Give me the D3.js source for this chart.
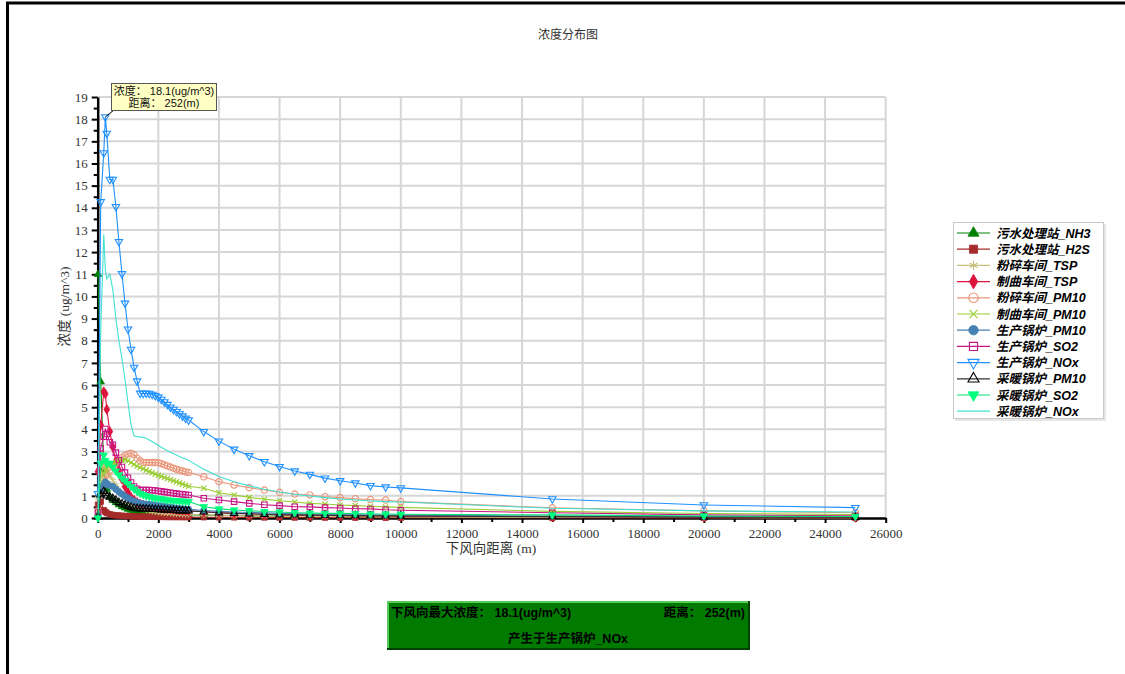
<!DOCTYPE html>
<html>
<head>
<meta charset="utf-8">
<script src="https://cdn.jsdelivr.net/npm/d3@7"></script>
<style>
  body { margin: 0; background: #fff; }
  svg { display: block; }
</style>
</head>
<body>
<svg id="chart" width="1125" height="674"></svg>
<script>
// Downwind distances (m)
const distances = [10, 100, 200, 252,
  300, 400, 500, 600, 700, 800, 900, 1000, 1100, 1200, 1300, 1400,
  1500, 1600, 1700, 1800, 1900, 2000, 2100, 2200, 2300, 2400, 2500, 2600, 2700, 2800, 2900, 3000,
  3500, 4000, 4500, 5000, 5500, 6000, 6500, 7000, 7500, 8000, 8500, 9000, 9500, 10000,
  15000, 20000, 25000];

// Concentrations (ug/m^3) per source, one value per distance
const wsNH3 = [11.0, 6.15, 2.2, 1.6,
  1.3, 0.96, 0.8, 0.7, 0.6, 0.52, 0.46, 0.4, 0.36, 0.33, 0.3, 0.28,
  0.26, 0.25, 0.24, 0.23, 0.22, 0.21, 0.2, 0.2, 0.19, 0.18, 0.18, 0.17, 0.17, 0.16, 0.16, 0.15,
  0.13, 0.12, 0.11, 0.1, 0.09, 0.085, 0.08, 0.075, 0.07, 0.065, 0.06, 0.058, 0.055, 0.052,
  0.035, 0.025, 0.02];
const wsH2S = [0.6, 0.74, 0.35, 0.28,
  0.22, 0.17, 0.14, 0.12, 0.11, 0.1, 0.09, 0.085, 0.08, 0.075, 0.07, 0.068,
  0.065, 0.063, 0.06, 0.058, 0.056, 0.054, 0.052, 0.05, 0.048, 0.047, 0.046, 0.045, 0.044, 0.043, 0.042, 0.04,
  0.035, 0.032, 0.029, 0.026, 0.024, 0.022, 0.02, 0.019, 0.018, 0.017, 0.016, 0.015, 0.014, 0.013,
  0.009, 0.006, 0.005];
const fsTSP = [0.9, 2.0, 2.35, 2.25,
  2.1, 1.9, 1.7, 1.5, 1.3, 1.1, 0.95, 0.82, 0.7, 0.6, 0.52, 0.45,
  0.4, 0.36, 0.33, 0.3, 0.28, 0.26, 0.24, 0.23, 0.22, 0.21, 0.2, 0.19, 0.18, 0.17, 0.17, 0.16,
  0.14, 0.12, 0.11, 0.1, 0.09, 0.08, 0.075, 0.07, 0.065, 0.06, 0.055, 0.052, 0.05, 0.048,
  0.03, 0.02, 0.015];
const zqTSP = [2.1, 4.2, 5.7, 5.6,
  4.9, 3.9, 3.2, 2.55, 2.15, 1.75, 1.42, 1.15, 0.93, 0.8, 0.7, 0.63,
  0.58, 0.55, 0.52, 0.5, 0.48, 0.46, 0.44, 0.42, 0.41, 0.39, 0.38, 0.36, 0.35, 0.34, 0.33, 0.32,
  0.28, 0.24, 0.21, 0.19, 0.17, 0.15, 0.14, 0.13, 0.12, 0.11, 0.1, 0.095, 0.09, 0.085,
  0.06, 0.04, 0.03];
const fsPM10 = [0.3, 1.2, 1.75, 1.9,
  2.0, 2.15, 2.3, 2.45, 2.6, 2.72, 2.82, 2.88, 2.92, 2.85, 2.7, 2.58,
  2.5, 2.5, 2.5, 2.5, 2.5, 2.49, 2.45, 2.4, 2.35, 2.3, 2.25, 2.2, 2.16, 2.12, 2.08, 2.05,
  1.86, 1.64, 1.49, 1.37, 1.26, 1.16, 1.08, 1.04, 0.96, 0.92, 0.87, 0.83, 0.81, 0.74,
  0.46, 0.32, 0.24];
const zqPM10 = [0.2, 1.5, 2.0, 2.15,
  2.25, 2.35, 2.42, 2.5, 2.56, 2.6, 2.62, 2.58, 2.5, 2.42, 2.35, 2.28,
  2.22, 2.16, 2.1, 2.04, 1.98, 1.93, 1.88, 1.83, 1.78, 1.73, 1.68, 1.63, 1.58, 1.53, 1.48, 1.43,
  1.34, 1.14, 1.04, 0.93, 0.85, 0.78, 0.72, 0.66, 0.63, 0.59, 0.56, 0.53, 0.5, 0.48,
  0.3, 0.2, 0.16];
const scPM10 = [0.1, 1.3, 1.48, 1.62,
  1.55, 1.45, 1.42, 1.3, 1.18, 1.08, 0.98, 0.9, 0.82, 0.76, 0.7, 0.66,
  0.64, 0.62, 0.61, 0.6, 0.58, 0.56, 0.54, 0.52, 0.5, 0.48, 0.46, 0.44, 0.42, 0.41, 0.4, 0.39,
  0.34, 0.3, 0.27, 0.25, 0.23, 0.21, 0.19, 0.18, 0.17, 0.16, 0.15, 0.14, 0.135, 0.13,
  0.085, 0.06, 0.05];
const scSO2 = [0.25, 3.14, 3.67, 4.02,
  3.79, 3.42, 3.3, 2.95, 2.62, 2.3, 2.05, 1.82, 1.6, 1.42, 1.32, 1.26,
  1.26, 1.26, 1.26, 1.25, 1.24, 1.22, 1.2, 1.18, 1.16, 1.14, 1.12, 1.1, 1.08, 1.07, 1.05, 1.04,
  0.89, 0.81, 0.74, 0.66, 0.6, 0.56, 0.51, 0.5, 0.47, 0.45, 0.42, 0.41, 0.37, 0.35,
  0.24, 0.14, 0.1];
const scNOx = [1.1, 14.27, 16.48, 18.1,
  17.36, 15.28, 15.28, 14.05, 12.47, 11.02, 9.69, 8.52, 7.61, 6.8, 6.18, 5.63,
  5.62, 5.63, 5.62, 5.58, 5.52, 5.45, 5.35, 5.24, 5.12, 5.0, 4.9, 4.8, 4.7, 4.6, 4.5, 4.42,
  3.9, 3.47, 3.1, 2.81, 2.54, 2.32, 2.12, 1.97, 1.8, 1.68, 1.58, 1.46, 1.4, 1.36,
  0.86, 0.59, 0.47];
const cnPM10 = [0.05, 1.05, 1.2, 1.1,
  1.0, 0.95, 0.88, 0.8, 0.7, 0.64, 0.58, 0.53, 0.48, 0.45, 0.43, 0.42,
  0.41, 0.41, 0.4, 0.4, 0.39, 0.38, 0.37, 0.37, 0.36, 0.35, 0.35, 0.34, 0.33, 0.33, 0.32, 0.32,
  0.28, 0.24, 0.21, 0.19, 0.17, 0.15, 0.14, 0.13, 0.12, 0.11, 0.105, 0.1, 0.095, 0.09,
  0.06, 0.04, 0.035];
const cnSO2 = [0.0, 2.47, 2.84, 2.6,
  2.47, 2.47, 2.3, 2.12, 1.95, 1.8, 1.68, 1.55, 1.42, 1.3, 1.2, 1.11,
  1.05, 1.0, 0.96, 0.93, 0.9, 0.88, 0.86, 0.84, 0.82, 0.8, 0.79, 0.78, 0.77, 0.76, 0.75, 0.74,
  0.51, 0.41, 0.36, 0.33, 0.29, 0.27, 0.24, 0.22, 0.21, 0.21, 0.2, 0.18, 0.18, 0.17,
  0.14, 0.09, 0.07];
const cnNOx = [0.4, 8.5, 12.8, 11.2,
  10.8, 11.0, 10.3, 9.0, 8.0, 7.2, 6.25, 5.2, 4.2, 3.7, 3.67, 3.66,
  3.64, 3.6, 3.52, 3.44, 3.36, 3.27, 3.19, 3.11, 3.04, 2.97, 2.9, 2.84, 2.77, 2.71, 2.66, 2.6,
  2.2, 1.87, 1.64, 1.45, 1.3, 1.17, 1.07, 0.99, 0.92, 0.86, 0.81, 0.77, 0.74, 0.72,
  0.44, 0.32, 0.27];

const seriesNames = ["污水处理站_NH3", "污水处理站_H2S", "粉碎车间_TSP", "制曲车间_TSP",
  "粉碎车间_PM10", "制曲车间_PM10", "生产锅炉_PM10", "生产锅炉_SO2", "生产锅炉_NOx",
  "采暖锅炉_PM10", "采暖锅炉_SO2", "采暖锅炉_NOx"];
const seriesValues = [wsNH3, wsH2S, fsTSP, zqTSP, fsPM10, zqPM10, scPM10, scSO2, scNOx, cnPM10, cnSO2, cnNOx];

const xTicks = d3.range(0, 26001, 2000);
const yTicks = d3.range(0, 20, 1);

// Line colour, marker shape and fill for each source
const styles = [
  { color: "#008000", line: "#008000", shape: "triUp",   filled: true  },
  { color: "#a52a2a", line: "#a52a2a", shape: "square",  filled: true  },
  { color: "#c8c07a", line: "#c8c07a", shape: "star",    filled: false },
  { color: "#dc143c", line: "#dc143c", shape: "diamond", filled: true  },
  { color: "#e9967a", line: "#e9967a", shape: "circle",  filled: false },
  { color: "#9acd32", line: "#9acd32", shape: "times",   filled: false },
  { color: "#4682b4", line: "#4682b4", shape: "circle",  filled: true  },
  { color: "#c71585", line: "#c71585", shape: "square",  filled: false },
  { color: "#1e90ff", line: "#1e90ff", shape: "triDown", filled: false },
  { color: "#000000", line: "#333333", shape: "triUp",   filled: false },
  { color: "#00ff7f", line: "#00e070", shape: "triDown", filled: true  },
  { color: "#40e0d0", line: "#40e0d0", shape: null,      filled: false }
];

const svg = d3.select("#chart");
const W = 1125, H = 674;
const plot = { left: 97.7, right: 885.7, top: 97, bottom: 518 };

const x = d3.scaleLinear().domain([0, 26000]).range([plot.left, plot.right]);
const y = d3.scaleLinear().domain([0, 19]).range([plot.bottom, plot.top]);

const cjk = "'Noto Sans CJK SC', sans-serif";
const serif = "'Liberation Serif', 'Noto Sans CJK SC', serif";
const sans = "'Liberation Sans', 'Noto Sans CJK SC', sans-serif";

// Outer frame
svg.append("rect").attr("x", 7.5).attr("y", 3).attr("width", W + 20).attr("height", H + 20)
  .attr("fill", "none").attr("stroke", "#000").attr("stroke-width", 3);

// Title
svg.append("text").attr("x", 568).attr("y", 39).attr("text-anchor", "middle")
  .style("font-family", cjk).style("font-size", "12px").attr("fill", "#333")
  .text("浓度分布图");

// Grid
const grid = svg.append("g").attr("stroke", "#d6d6d6").attr("stroke-width", 2);
grid.selectAll("line.h").data(yTicks.filter(v => v > 0)).join("line")
  .attr("x1", plot.left).attr("x2", plot.right)
  .attr("y1", d => y(d)).attr("y2", d => y(d));
grid.selectAll("line.v").data(xTicks.filter(v => v > 0)).join("line")
  .attr("y1", plot.top).attr("y2", plot.bottom)
  .attr("x1", d => x(d)).attr("x2", d => x(d));

// Axes
function styleAxis(g) {
  g.select(".domain").attr("stroke", "#000").attr("stroke-width", 2.5);
  g.selectAll(".tick line").attr("stroke", "#000").attr("stroke-width", 2);
  g.selectAll(".tick text").style("font-family", serif).style("font-size", "13px").attr("fill", "#333");
}
const xAxisMinor = svg.append("g").attr("transform", `translate(0,${plot.bottom})`)
  .call(d3.axisBottom(x).tickValues(d3.range(1000, 26000, 2000)).tickSize(4).tickSizeOuter(0).tickFormat(""));
xAxisMinor.select(".domain").remove();
xAxisMinor.selectAll(".tick line").attr("stroke", "#000").attr("stroke-width", 2);
const xAxis = svg.append("g").attr("transform", `translate(0,${plot.bottom})`)
  .call(d3.axisBottom(x).tickValues(xTicks).tickSize(5).tickSizeOuter(0).tickPadding(6).tickFormat(d3.format("d")));
styleAxis(xAxis);

const yAxisMinor = svg.append("g").attr("transform", `translate(${plot.left},0)`)
  .call(d3.axisLeft(y).tickValues(d3.range(0.5, 19, 1)).tickSize(4).tickSizeOuter(0).tickFormat(""));
yAxisMinor.select(".domain").remove();
yAxisMinor.selectAll(".tick line").attr("stroke", "#000").attr("stroke-width", 2);
const yAxis = svg.append("g").attr("transform", `translate(${plot.left},0)`)
  .call(d3.axisLeft(y).tickValues(yTicks).tickSize(6).tickSizeOuter(0).tickPadding(4).tickFormat(d3.format("d")));
styleAxis(yAxis);

// Axis titles
svg.append("text").attr("x", 491).attr("y", 553).attr("text-anchor", "middle")
  .style("font-family", serif).style("font-size", "13.5px").attr("fill", "#333")
  .text("下风向距离 (m)");
svg.append("text").attr("transform", `translate(69,${(plot.top + plot.bottom) / 2 - 1}) rotate(-90)`)
  .attr("text-anchor", "middle")
  .style("font-family", serif).style("font-size", "13.5px").attr("fill", "#333")
  .text("浓度  (ug/m^3)");

// Marker generator
function markerPath(shape, scale = 1) {
  switch (shape) {
    case "triUp":   return d3.symbol(d3.symbolTriangle, 24 * scale)();
    case "triDown": return d3.symbol(d3.symbolTriangle, 24 * scale)();
    case "square":  return d3.symbol(d3.symbolSquare, 30 * scale)();
    case "diamond": return d3.symbol(d3.symbolDiamond, 28 * scale)();
    case "circle":  return d3.symbol(d3.symbolCircle, 32 * scale)();
    case "star":    return d3.symbol(d3.symbolAsterisk, 28 * scale)();
    case "times":   return d3.symbol(d3.symbolTimes, 20 * scale)();
  }
  return null;
}
function drawMarker(g, s, cx, cy, scale) {
  const p = markerPath(s.shape, scale);
  if (!p) return;
  const rot = s.shape === "triDown" ? " rotate(180)" : "";
  g.append("path").attr("d", p)
    .attr("transform", `translate(${cx},${cy})${rot}`)
    .attr("fill", s.filled ? s.color : "none")
    .attr("stroke", s.color)
    .attr("stroke-width", s.filled ? 0.8 : 1.1);
}

// Series
const line = d3.line().x(d => x(d[0])).y(d => y(d[1]));
const seriesG = svg.append("g");
seriesValues.forEach((vals, i) => {
  const s = styles[i];
  const pts = distances.map((d, k) => [d, vals[k]]);
  const g = seriesG.append("g");
  g.append("path").attr("d", line(pts)).attr("fill", "none")
    .attr("stroke", s.line).attr("stroke-width", 1.1);
  pts.forEach(p => drawMarker(g, s, x(p[0]), y(p[1]), 1));
});

// Peak annotation for the highest series
let peakVal = -Infinity, peakIdx = 0, peakSeries = 0;
seriesValues.forEach((vals, i) => vals.forEach((v, k) => {
  if (v > peakVal) { peakVal = v; peakIdx = k; peakSeries = i; }
}));
const peakDist = distances[peakIdx];
const fmt1 = d3.format(".1f");
const px = x(peakDist), py = y(peakVal);
const tip = svg.append("g");
tip.append("line").attr("x1", px).attr("y1", py).attr("x2", 114).attr("y2", 110)
  .attr("stroke", "#000").attr("stroke-width", 1);
tip.append("rect").attr("x", 111.5).attr("y", 83.5).attr("width", 105).attr("height", 27)
  .attr("fill", "#ffffc4").attr("stroke", "#555").attr("stroke-width", 1);
tip.append("text").attr("x", 164).attr("y", 95).attr("text-anchor", "middle")
  .style("font-family", sans).style("font-size", "11px").attr("fill", "#111")
  .text(`浓度： ${fmt1(peakVal)}(ug/m^3)`);
tip.append("text").attr("x", 164).attr("y", 107).attr("text-anchor", "middle")
  .style("font-family", sans).style("font-size", "11px").attr("fill", "#111")
  .text(`距离： ${peakDist}(m)`);

// Legend
const lg = svg.append("g");
lg.append("rect").attr("x", 955).attr("y", 224).attr("width", 151).attr("height", 197)
  .attr("fill", "#e6e6e6");
lg.append("rect").attr("x", 953.5).attr("y", 222.5).attr("width", 150).attr("height", 196)
  .attr("fill", "#fff").attr("stroke", "#c8c8c8");
seriesNames.forEach((name, i) => {
  const s = styles[i];
  const cy = 233 + i * 16.2;
  lg.append("line").attr("x1", 957).attr("x2", 990).attr("y1", cy).attr("y2", cy)
    .attr("stroke", s.line).attr("stroke-width", 1.2);
  drawMarker(lg, s, 973.5, cy, 2.2);
  lg.append("text").attr("x", 996).attr("y", cy + 4.5)
    .style("font-family", sans).style("font-size", "12.5px")
    .style("font-weight", "bold").style("font-style", "italic").attr("fill", "#000")
    .text(name);
});

// Summary box
const sb = svg.append("g");
sb.append("rect").attr("x", 387).attr("y", 601).attr("width", 363).attr("height", 49).attr("fill", "#004000");
sb.append("rect").attr("x", 387).attr("y", 601).attr("width", 361).attr("height", 47).attr("fill", "#55cc55");
sb.append("rect").attr("x", 389).attr("y", 603).attr("width", 359).attr("height", 45).attr("fill", "#007a00");
sb.append("text").attr("x", 391).attr("y", 617)
  .style("font-family", sans).style("font-size", "12.5px").style("font-weight", "bold").attr("fill", "#000")
  .text(`下风向最大浓度： ${fmt1(peakVal)}(ug/m^3)`);
sb.append("text").attr("x", 745).attr("y", 617).attr("text-anchor", "end")
  .style("font-family", sans).style("font-size", "12.5px").style("font-weight", "bold").attr("fill", "#000")
  .text(`距离： ${peakDist}(m)`);
sb.append("text").attr("x", 568).attr("y", 643).attr("text-anchor", "middle")
  .style("font-family", sans).style("font-size", "12.5px").style("font-weight", "bold").attr("fill", "#000")
  .text(`产生于${seriesNames[peakSeries]}`);
</script>
</body>
</html>
